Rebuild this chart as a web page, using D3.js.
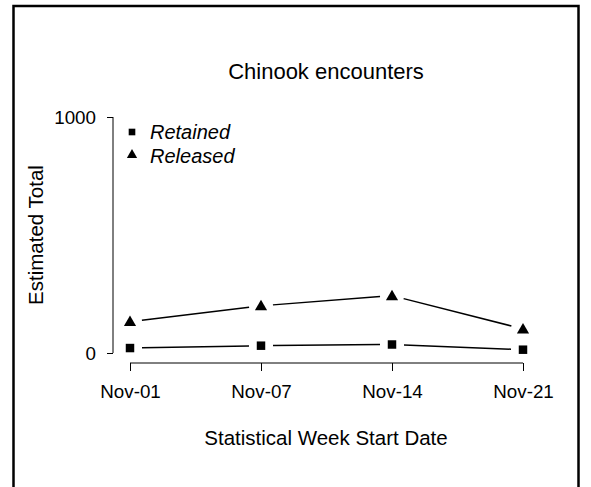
<!DOCTYPE html>
<html>
<head>
<meta charset="utf-8">
<script src="https://cdn.jsdelivr.net/npm/d3@7"></script>
<style>
  body { margin: 0; background: #fff; }
  text { font-family: "Liberation Sans", Arial, sans-serif; fill: #000; }
</style>
</head>
<body>
<script>
// weekly start dates and estimated totals
var weeks = ["Nov-01", "Nov-07", "Nov-14", "Nov-21"];
var retained = [21, 31, 36, 14];
var released = [133, 200, 243, 102];
var yTicks = [0, 1000];
var legendNames = ["Retained", "Released"];

var w = 591, h = 487;

var svg = d3.select("body").append("svg").attr("width", w).attr("height", h);

// frame round the figure
svg.append("rect")
  .attr("x", 13.5).attr("y", 6)
  .attr("width", 565).attr("height", 500)
  .attr("fill", "none").attr("stroke", "#000").attr("stroke-width", 2.5);

var x = d3.scalePoint().domain(weeks).range([130, 523]);
var y = d3.scaleLinear().domain([0, 1000]).range([353, 117]);

// y axis, R style: line only between the ticks
var yAxis = svg.append("g").attr("transform", "translate(113,0)")
  .call(d3.axisLeft(y).tickValues(yTicks).tickSize(6).tickPadding(11).tickFormat(d3.format("d")));
yAxis.selectAll("text").style("font-size", "18.8px");

var xAxis = svg.append("g").attr("transform", "translate(0,363)")
  .call(d3.axisBottom(x).tickSize(8).tickPadding(14));
xAxis.selectAll("text").style("font-size", "18.8px");
svg.selectAll(".domain").remove();
yAxis.append("line").attr("y1", y(0)).attr("y2", y(1000)).attr("stroke", "#000");
xAxis.append("line").attr("x1", x(weeks[0])).attr("x2", x(weeks[3])).attr("stroke", "#000");
svg.selectAll(".tick line").attr("stroke", "#000");

// lines with gaps round the points (type = "b")
function gapSegments(vals) {
  var segs = [];
  for (var i = 0; i < vals.length - 1; i++) {
    var x1 = x(weeks[i]), y1 = y(vals[i]), x2 = x(weeks[i + 1]), y2 = y(vals[i + 1]);
    var len = Math.hypot(x2 - x1, y2 - y1), g = 12;
    var dx = (x2 - x1) / len, dy = (y2 - y1) / len;
    segs.push([x1 + dx * g, y1 + dy * g, x2 - dx * g, y2 - dy * g]);
  }
  return segs;
}

[retained, released].forEach(function(vals) {
  svg.append("g").selectAll("line")
    .data(gapSegments(vals))
    .enter().append("line")
    .attr("x1", function(d) { return d[0]; })
    .attr("y1", function(d) { return d[1]; })
    .attr("x2", function(d) { return d[2]; })
    .attr("y2", function(d) { return d[3]; })
    .attr("stroke", "#000").attr("stroke-width", 1.5);
});

var square = d3.symbol().type(d3.symbolSquare).size(72);
var triangle = d3.symbol().type(d3.symbolTriangle).size(64);

svg.append("g").selectAll("path")
  .data(retained)
  .enter().append("path")
  .attr("d", square)
  .attr("transform", function(d, i) { return "translate(" + x(weeks[i]) + "," + y(d) + ")"; });

svg.append("g").selectAll("path")
  .data(released)
  .enter().append("path")
  .attr("d", triangle)
  .attr("transform", function(d, i) { return "translate(" + x(weeks[i]) + "," + (y(d) + 1) + ")"; });

// legend
var legend = svg.append("g");
legend.append("path").attr("d", d3.symbol().type(d3.symbolSquare).size(44)).attr("transform", "translate(132,132)");
legend.append("path").attr("d", d3.symbol().type(d3.symbolTriangle).size(46)).attr("transform", "translate(132,155)");
legend.selectAll("text")
  .data(legendNames)
  .enter().append("text")
  .attr("x", 150)
  .attr("y", function(d, i) { return 139 + i * 23.5; })
  .style("font-size", "20px")
  .style("font-style", "italic")
  .text(function(d) { return d; });

// titles
svg.append("text")
  .attr("x", 326).attr("y", 79)
  .attr("text-anchor", "middle")
  .style("font-size", "22px")
  .text("Chinook encounters");

svg.append("text")
  .attr("x", 326).attr("y", 445)
  .attr("text-anchor", "middle")
  .style("font-size", "20.5px")
  .text("Statistical Week Start Date");

svg.append("text")
  .attr("transform", "translate(43,235) rotate(-90)")
  .attr("text-anchor", "middle")
  .style("font-size", "20.5px")
  .text("Estimated Total");
</script>
</body>
</html>
